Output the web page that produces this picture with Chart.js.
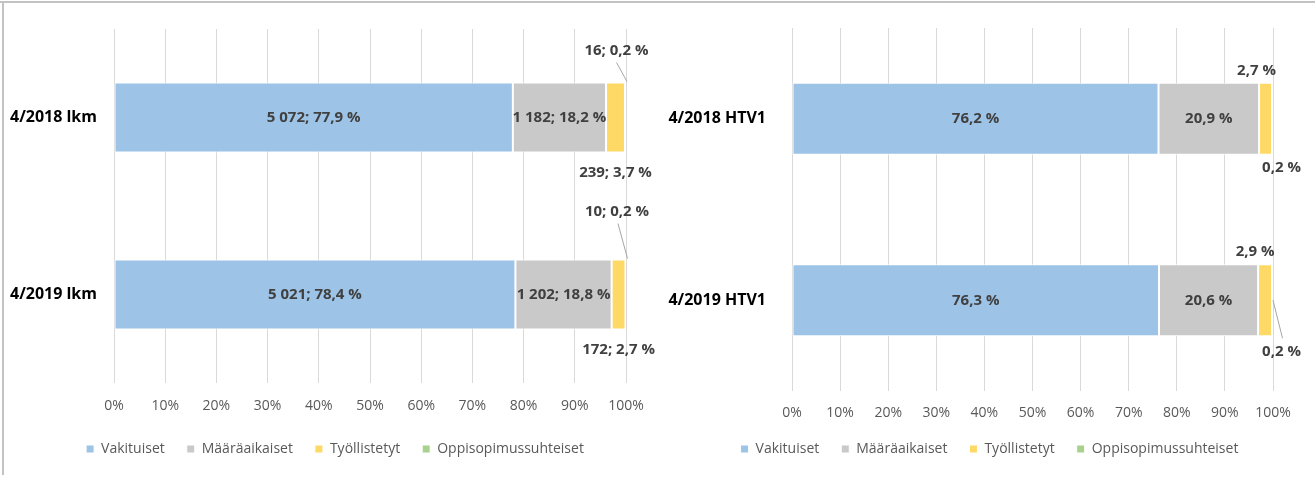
<!DOCTYPE html>
<html>
<head>
<meta charset="utf-8">
<script src="https://cdn.jsdelivr.net/npm/chart.js@4.4.1/dist/chart.umd.min.js"></script>
<style>
  html, body { margin: 0; padding: 0; background: #fff; }
  #wrap { position: relative; width: 1315px; height: 481px; overflow: hidden; background: #fff; }
  #topLine { position: absolute; left: 0; top: 1px; width: 1315px; height: 2px; background: #c3c3c3; }
  #leftLine { position: absolute; left: 2px; top: 1px; width: 2px; height: 474px; background: #c3c3c3; }
  canvas { position: absolute; top: 0; }
</style>
</head>
<body>
<div id="wrap">
  <canvas id="chartCount" width="660" height="481" style="left:0px"></canvas>
  <canvas id="chartFte" width="657" height="481" style="left:658px"></canvas>
  <div id="topLine"></div>
  <div id="leftLine"></div>
</div>
<script>
// ---- data ----
const categoriesCount = ['4/2018 lkm', '4/2019 lkm'];
const categoriesFte = ['4/2018 HTV1', '4/2019 HTV1'];
const seriesNames = ['Vakituiset', 'Määräaikaiset', 'Työllistetyt', 'Oppisopimussuhteiset'];

const vakituisetCount = [5072, 5021];
const maaraaikaisetCount = [1182, 1202];
const tyollistetytCount = [239, 172];
const oppisopimusCount = [16, 10];

const vakituisetPct = [77.9, 78.4];
const maaraaikaisetPct = [18.2, 18.8];
const tyollistetytPct = [3.7, 2.7];
const oppisopimusPct = [0.2, 0.2];

const vakituisetFte = [76.2, 76.3];
const maaraaikaisetFte = [20.9, 20.6];
const tyollistetytFte = [2.7, 2.9];
const oppisopimusFte = [0.2, 0.2];

const xTickLabels = ['0%', '10%', '20%', '30%', '40%', '50%', '60%', '70%', '80%', '90%', '100%'];

// ---- styles ----
const colors = ['#9dc3e6', '#c9c9c9', '#ffd966', '#a9d18e'];
const FONT = "'Open Sans', 'Noto Sans', sans-serif";

function fmtInt(n) { return String(n).replace(/\B(?=(\d{3})+(?!\d))/g, ' '); }
function fmtPct(p) { return p.toFixed(1).replace('.', ',') + ' %'; }

const segLabelPlugin = {
  id: 'segLabels',
  afterLayout(chart, args, opts) {
    if (chart.legend && opts.legendShift) {
      chart.legend.left += opts.legendShift;
      chart.legend.right += opts.legendShift;
    }
  },
  afterDatasetsDraw(chart, args, opts) {
    const ctx = chart.ctx;
    ctx.save();
    ctx.font = 'bold 15px ' + FONT;
    ctx.fillStyle = '#404040';
    ctx.textAlign = 'center';
    ctx.textBaseline = 'middle';
    chart.data.datasets.forEach((ds, di) => {
      const meta = chart.getDatasetMeta(di);
      const lc = opts.layout[di];
      meta.data.forEach((el, i) => {
        const text = ds.labelTexts[i];
        const top = el.y - el.height / 2;
        const bottom = el.y + el.height / 2;
        const cx = (el.x + el.base) / 2;
        let x, y;
        if (lc.pos === 'center') { x = cx; y = el.y; }
        else if (lc.pos === 'above') { x = cx + lc.dx[i]; y = top - lc.dy[i]; }
        else { x = cx + lc.dx[i]; y = bottom + lc.dy[i]; }
        ctx.fillText(text, x, y);
        if (lc.leader && lc.leader[i]) {
          const L = lc.leader[i];
          ctx.beginPath();
          ctx.strokeStyle = '#a6a6a6';
          ctx.lineWidth = 1;
          ctx.moveTo(x + L.fx, y + L.fy);
          const ty = L.to === 'top' ? top - 1 : (L.to === 'bottom' ? bottom + 1 : el.y);
          ctx.lineTo(el.x + L.tx, ty);
          ctx.stroke();
        }
      });
    });
    ctx.restore();
  }
};

function makeChart(id, cats, seriesVals, seriesTexts, cfg) {
  const datasets = seriesNames.map((name, k) => ({
    label: name,
    data: seriesVals[k],
    labelTexts: seriesTexts[k],
    backgroundColor: colors[k],
    borderColor: '#ffffff',
    borderWidth: 1,
    borderSkipped: false,
    categoryPercentage: 1,
    barPercentage: cfg.barPct
  }));
  return new Chart(document.getElementById(id), {
    type: 'bar',
    data: { labels: cats, datasets },
    plugins: [segLabelPlugin],
    options: {
      indexAxis: 'y',
      responsive: false,
      animation: false,
      events: [],
      layout: { padding: cfg.padding },
      scales: {
        x: {
          stacked: true, min: 0, max: 100,
          ticks: {
            stepSize: 10,
            color: '#595959',
            font: { family: FONT, size: 14 },
            padding: cfg.xTickPad,
            maxRotation: 0,
            callback: (v, i) => xTickLabels[i]
          },
          grid: { color: '#d9d9d9', drawTicks: false, lineWidth: 1 },
          border: { display: false },
          afterFit: s => { s.height = cfg.xH; }
        },
        y: {
          stacked: true,
          ticks: { color: '#000000', font: { family: FONT, size: 16, weight: 'bold' }, padding: cfg.yTickPad },
          grid: { display: false, drawTicks: false },
          border: { display: false },
          afterFit: s => { s.width = cfg.yW; s.paddingTop = 0; s.paddingBottom = 0; }
        }
      },
      plugins: {
        tooltip: { enabled: false },
        legend: {
          position: 'bottom',
          labels: {
            boxWidth: 8, boxHeight: 8, padding: 22,
            color: '#595959',
            font: { family: FONT, size: 14 }
          }
        },
        segLabels: { layout: cfg.labelLayout, legendShift: cfg.legendShift }
      }
    }
  });
}

const countVals = [vakituisetPct, maaraaikaisetPct, tyollistetytPct, oppisopimusPct];
const countCounts = [vakituisetCount, maaraaikaisetCount, tyollistetytCount, oppisopimusCount];
const countTexts = countVals.map((arr, k) => arr.map((p, i) => fmtInt(countCounts[k][i]) + '; ' + fmtPct(p)));

makeChart('chartCount', categoriesCount, countVals, countTexts, {
  barPct: 0.395,
  padding: { left: 0, right: 34, top: 29, bottom: 15 },
  xTickPad: 15, xH: 37, yW: 114, yTickPad: 17, legendShift: 22,
  labelLayout: [
    { pos: 'center' },
    { pos: 'center' },
    { pos: 'below', dx: [0, 0], dy: [20, 20] },
    { pos: 'above', dx: [-9, -9], dy: [32, 48],
      leader: [{ fx: 0, fy: 12, tx: 1, to: 'top' }, { fx: 1, fy: 12, tx: 1, to: 'top' }] }
  ]
});

const fteVals = [vakituisetFte, maaraaikaisetFte, tyollistetytFte, oppisopimusFte];
const fteTexts = fteVals.map(arr => arr.map(p => fmtPct(p)));

makeChart('chartFte', categoriesFte, fteVals, fteTexts, {
  barPct: 0.397,
  padding: { left: 0, right: 42, top: 28, bottom: 15 },
  xTickPad: 14, xH: 29, yW: 134, yTickPad: 26, legendShift: 24,
  labelLayout: [
    { pos: 'center' },
    { pos: 'center' },
    { pos: 'above', dx: [-9, -10], dy: [12, 12] },
    { pos: 'below', dx: [9, 9], dy: [13, 15],
      leader: [null, { fx: 1, fy: -13, tx: 0, to: 'mid' }] }
  ]
});
</script>
</body>
</html>
